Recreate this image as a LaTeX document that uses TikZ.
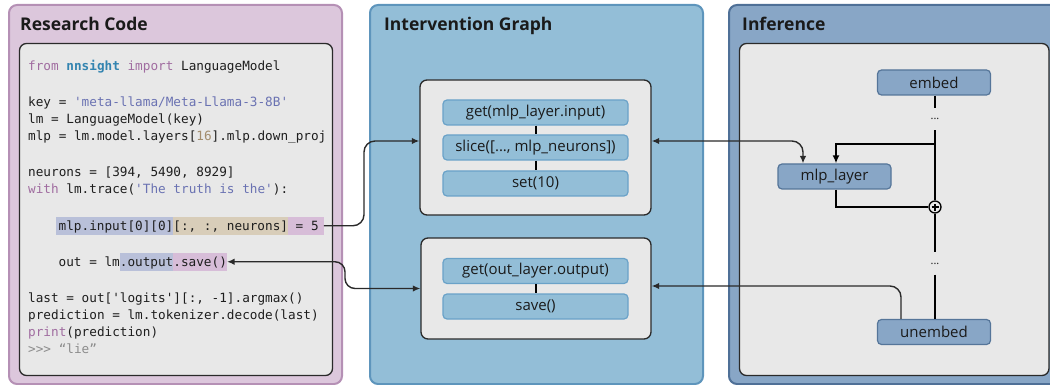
\documentclass[tikz,border=0pt]{standalone}
\usepackage{fontspec}
\setmainfont{Open Sans}
\setmonofont{DejaVu Sans Mono}
\usetikzlibrary{arrows.meta}
\definecolor{rcfill}{HTML}{DCC7DC}
\definecolor{rcborder}{HTML}{B590B5}
\definecolor{boxfill}{HTML}{E8E8E8}
\definecolor{boxline}{HTML}{2A2A2A}
\definecolor{igfill}{HTML}{93BED7}
\definecolor{igborder}{HTML}{5E95BC}
\definecolor{ignodeline}{HTML}{6AA2C8}
\definecolor{inffill}{HTML}{88A6C6}
\definecolor{infborder}{HTML}{4F7097}
\definecolor{infnodeline}{HTML}{557599}
\definecolor{hlblue}{HTML}{B9C0D9}
\definecolor{hlbeige}{HTML}{D8CDB9}
\definecolor{hlpink}{HTML}{D7BDD8}
\definecolor{kwcol}{HTML}{A06CA0}
\definecolor{modcol}{HTML}{3384B0}
\definecolor{strcol}{HTML}{6A72B2}
\definecolor{numcol}{HTML}{A38D6D}
\definecolor{promptcol}{HTML}{8C8C8C}
\definecolor{codetext}{HTML}{1E1E1E}
\definecolor{txt}{HTML}{1A1A1A}
\setlength{\fboxsep}{0pt}
\newcommand{\hlbox}[2]{\colorbox{#1}{\rule[-4.5pt]{0pt}{18.5pt}#2}}
\newcommand{\kwd}[1]{\textcolor{kwcol}{#1}}
\newcommand{\strg}[1]{\textcolor{strcol}{#1}}
\newcommand{\mycodefont}{\fontsize{12.7}{17}\selectfont\ttfamily}
\newcommand{\mytitlefont}{\fontsize{17.5}{20}\selectfont\bfseries}
\newcommand{\mynodefont}{\fontsize{15}{18}\selectfont}
\tikzset{
  panel/.style={line width=2pt, rounded corners=8pt},
  innerbox/.style={draw=boxline, fill=boxfill, line width=1.3pt, rounded corners=7pt},
  title/.style={anchor=base west, inner sep=0pt, font=\mytitlefont, text=txt},
  codeline/.style={anchor=base west, inner sep=0pt, font=\mycodefont, text=codetext},
  ignode/.style={draw=ignodeline, fill=igfill, line width=1.2pt, rounded corners=4pt,
    minimum width=185pt, minimum height=25pt, inner sep=0pt, font=\mynodefont, text=txt},
  infnode/.style={draw=infnodeline, fill=inffill, line width=1.2pt, rounded corners=4pt,
    minimum width=113pt, minimum height=25pt, inner sep=0pt, font=\mynodefont, text=txt},
  dots/.style={inner sep=0pt, minimum width=10pt, minimum height=22pt, font=\fontsize{11}{11}\selectfont, text=txt},
  gline/.style={line width=2pt, draw=black},
  conn/.style={line width=1.4pt, draw=boxline, rounded corners=11pt},
  tip/.style={-{Latex[length=7.5pt,width=6.5pt]}},
  bitip/.style={{Latex[length=7.5pt,width=6.5pt]}-{Latex[length=7.5pt,width=6.5pt]}},
}
\begin{document}
\begin{tikzpicture}[x=1pt, y=-1pt]
\useasboundingbox (0,0) rectangle (1050,385);
% panels
\draw[panel, draw=rcborder, fill=rcfill] (9,5) rectangle (342,384);
\draw[panel, draw=igborder, fill=igfill] (370,5) rectangle (703,384);
\draw[panel, draw=infborder, fill=inffill] (729,5) rectangle (1075,384);
\node[title] (t1) at (20,31) {Research Code};
\node[title] (t2) at (384,31) {Intervention Graph};
\node[title] (t3) at (742,31) {Inference};
% inner boxes
\draw[innerbox] (19.5,43.5) rectangle (332.5,375.5);
\node[innerbox, minimum width=231pt, minimum height=135pt, inner sep=0pt] (box1) at (535.5,147.5) {};
\node[innerbox, minimum width=230pt, minimum height=101pt, inner sep=0pt] (box2) at (536,288.5) {};
\draw[innerbox] (739.5,43.5) rectangle (1049,375.5);
% code
\node[codeline] (c1) at (28,70.5) {\kwd{from} \textcolor{modcol}{\bfseries nnsight} \kwd{import} LanguageModel};
\node[codeline] (c2) at (28,106.5) {key = \strg{'meta-llama/Meta-Llama-3-8B'}};
\node[codeline] (c3) at (28,123.5) {lm = LanguageModel(key)};
\node[codeline] (c4) at (28,140.5) {mlp = lm.model.layers[\textcolor{numcol}{16}].mlp.down\_proj};
\node[codeline] (c5) at (28,176.5) {neurons = [394, 5490, 8929]};
\node[codeline] (c6) at (28,193.5) {\kwd{with} lm.trace(\strg{'The truth is the'}):};
\node[codeline] (c7) at (56,230.5) {\hlbox{hlblue}{\hspace{2.5pt}mlp.input[0][0]}\hlbox{hlbeige}{[:, :, neurons]}\hlbox{hlpink}{ = 5\hspace{5pt}}};
\node[codeline] (c8) at (58.5,266.5) {out = lm\hlbox{hlblue}{.output}\hlbox{hlpink}{.save()}};
\node[codeline] (c9) at (28,302.5) {last = out['logits'][:, -1].argmax()};
\node[codeline] (c10) at (28,319.5) {prediction = lm.tokenizer.decode(last)};
\node[codeline] (c11) at (28,336.5) {\kwd{print}(prediction)};
\node[codeline] (c12) at (28,353.5) {\textcolor{promptcol}{>>> “lie”}};
% intervention graph nodes
\node[ignode] (g1) at (535.5,112.5) {get(mlp\_layer.input)};
\node[ignode] (g2) at (535.5,147.5) {slice([..., mlp\_neurons])};
\node[ignode] (g3) at (535.5,183.5) {set(10)};
\node[ignode] (o1) at (535.5,271) {get(out\_layer.output)};
\node[ignode] (o2) at (535.5,306.5) {save()};
\draw[gline] (g1) -- (g2);
\draw[gline] (g2) -- (g3);
\draw[gline] (o1) -- (o2);
% inference graph
\node[infnode] (embed) at (934,82.5) {embed};
\node[infnode] (mlp) at (834.5,176.5) {mlp\_layer};
\node[infnode] (unembed) at (934,332) {unembed};
\node[dots] (d1) at (935,119) {...};
\node[dots] (d2) at (935,263.5) {...};
\node[circle, draw=black, line width=1.3pt, fill=boxfill, minimum size=12pt, inner sep=0pt] (plus) at (935,207) {};
\draw[line width=1.4pt] ([xshift=-3.5pt]plus.center) -- ([xshift=3.5pt]plus.center)
  ([yshift=-3.5pt]plus.center) -- ([yshift=3.5pt]plus.center);
\draw[gline] (embed.south -| d1) -- (d1);
\draw[gline] (d1) -- (plus);
\draw[gline] (plus) -- (d2);
\draw[gline] (d2) -- (unembed.north -| d2);
\coordinate (br) at (935,144);
\draw[gline, -{Latex[length=8pt,width=7pt]}] (br) -| ([xshift=1.5pt]mlp.north);
\draw[gline] ([xshift=1.5pt]mlp.south) |- (plus.west);
% connectors
\coordinate (k1) at (803,141);
\draw[conn, bitip] (box1.east |- k1) -- (k1) -- ([xshift=-31.5pt]mlp.north);
\coordinate (k3) at (901,286);
\draw[conn, tip] ([xshift=-33pt]unembed.north) -- (k3) -- (box2.east |- k3);
\coordinate (k2) at (364,141);
\draw[conn, tip] (c7.east) -| (k2) -- (box1.west |- k2);
\coordinate (k4) at (345,0);
\draw[conn, bitip, rounded corners=10pt] (c8.east) -- (c8.east -| k4) -- (box2.west -| k4) -- (box2.west);
\end{tikzpicture}
\end{document}
